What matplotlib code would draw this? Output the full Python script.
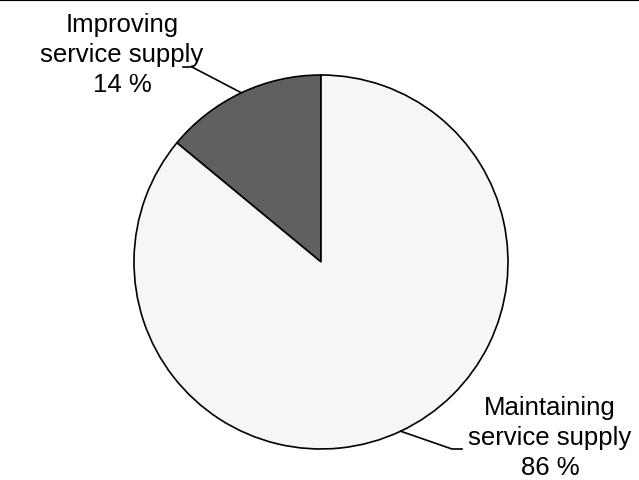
import matplotlib.pyplot as plt
from matplotlib.lines import Line2D
import numpy as np

labels = ['Improving\nservice supply\n14 %', 'Maintaining\nservice supply\n86 %']
shares = [14, 86]
colors = ['#606060', '#f6f6f6']

plt.rcParams['font.family'] = ['Liberation Sans', 'DejaVu Sans']

fig = plt.figure(figsize=(6.39, 4.81), dpi=100)
ax = fig.add_axes([0, 0, 1, 1])

cx, cy, r = 321, 218, 187
wedges, _ = ax.pie(shares, colors=colors, startangle=90, counterclock=True,
                   center=(cx, cy), radius=r, frame=True,
                   wedgeprops=dict(edgecolor='black', linewidth=1.2))
ax.set_xlim(0, 639)
ax.set_ylim(0, 481)
ax.set_aspect('equal')
ax.axis('off')

# label positions (text centre, elbow, line end)
text_pos = [(122, 426), (550, 43)]
elbows = [(192, 413), (452, 31)]
ends = [(183, 413), (462, 31)]

for w, lab, tp, el, en in zip(wedges, labels, text_pos, elbows, ends):
    mid = np.deg2rad((w.theta1 + w.theta2) / 2)
    px, py = cx + r * np.cos(mid), cy + r * np.sin(mid)
    ax.plot([px, el[0], en[0]], [py, el[1], en[1]], color='black', lw=1.2)
    ax.text(tp[0], tp[1], lab, ha='center', va='center', fontsize=18.5,
            multialignment='center', linespacing=1.3)

fig.add_artist(Line2D([0, 1], [1.0, 1.0], color='black', lw=3,
                      transform=fig.transFigure))

fig.savefig('out.png', dpi=100, facecolor='white')
